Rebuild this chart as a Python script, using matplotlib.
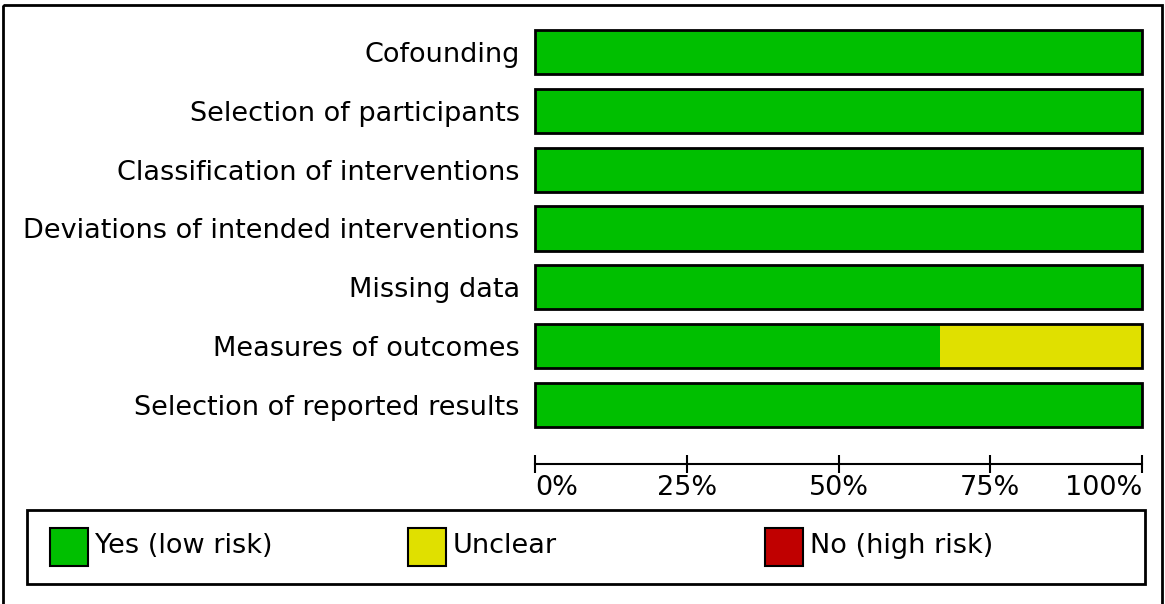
import matplotlib
matplotlib.use('Agg')
import matplotlib.pyplot as plt
from matplotlib.patches import Rectangle
import numpy as np

# risk-of-bias domains, top to bottom
domains = [
    'Cofounding',
    'Selection of participants',
    'Classification of interventions',
    'Deviations of intended interventions',
    'Missing data',
    'Measures of outcomes',
    'Selection of reported results',
]
# percent of studies per judgement
low_risk = [100, 100, 100, 100, 100, 66.7, 100]
unclear = [0, 0, 0, 0, 0, 33.3, 0]
high_risk = [0, 0, 0, 0, 0, 0, 0]

tick_vals = [0, 25, 50, 75, 100]
tick_labels = ['0%', '25%', '50%', '75%', '100%']

legend_labels = ['Yes (low risk)', 'Unclear', 'No (high risk)']
colors = ['#00bf00', '#e0e000', '#c00000']

W, H = 1165, 604
plt.rcParams['font.family'] = 'DejaVu Sans'
FS = 19.5

fig = plt.figure(figsize=(W / 100, H / 100), dpi=100)

# overlay in pixel coordinates for frames and legend
bg = fig.add_axes([0, 0, 1, 1])
bg.set_xlim(0, W); bg.set_ylim(H, 0); bg.axis('off')
bg.add_patch(Rectangle((3, 5), W - 6, H + 10, fill=False, lw=2, ec='black'))

# bar axes
x0, x1 = 535, 1142
y_top, y_bot = 22.5, 434.5
ax = fig.add_axes([x0 / W, 1 - y_bot / H, (x1 - x0) / W, (y_bot - y_top) / H])
ypos = np.arange(len(domains))
left = np.zeros(len(domains))
for vals, col in zip([low_risk, unclear, high_risk], colors):
    vals = np.array(vals)
    ax.barh(ypos, vals, left=left, height=0.75, color=col, edgecolor='none')
    left += vals
ax.barh(ypos, left, height=0.75, fill=False, edgecolor='black', lw=2, clip_on=False)
ax.set_xlim(0, 100)
ax.set_ylim(len(domains) - 0.5, -0.5)
ax.set_yticks(ypos)
ax.set_yticklabels(domains, fontsize=FS)
ax.tick_params(axis='y', length=0, pad=11)
for s in ['top', 'right', 'left']:
    ax.spines[s].set_visible(False)
ax.spines['bottom'].set_position(('outward', 21))
ax.spines['bottom'].set_linewidth(1.5)
ax.set_xticks(tick_vals)
ax.set_xticklabels(tick_labels, fontsize=FS)
ax.tick_params(axis='x', direction='inout', length=13, width=1.5, pad=2)
labs = ax.get_xticklabels()
labs[0].set_ha('left')
labs[-1].set_ha('right')

# legend box
bg.add_patch(Rectangle((27, 510), 1118, 74, fill=False, lw=2, ec='black'))
for i, (lab, col) in enumerate(zip(legend_labels, colors)):
    px = 50 + i * 357.5
    bg.add_patch(Rectangle((px, 528), 38, 38, fc=col, ec='black', lw=1.5))
    bg.text(px + 45, 546, lab, fontsize=FS, va='center', ha='left')

fig.savefig('out.png', dpi=100)
